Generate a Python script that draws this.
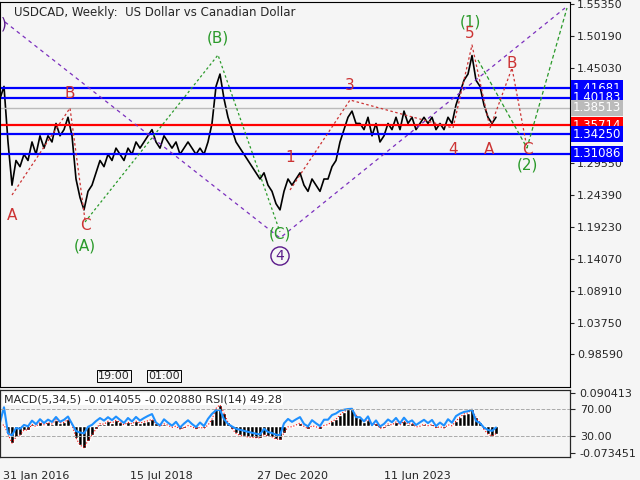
import numpy as np, pandas as pd, seaborn as sns, matplotlib
matplotlib.use("Agg")
import matplotlib.pyplot as plt

sns.set_style("white")
plt.rcParams['font.family'] = ['DejaVu Sans']

# weekly closes sampled every 4 weeks (x in bar index units, ~1 bar per pixel)
prices = [1.40,1.42,1.33,1.26,1.30,1.29,1.31,1.30,1.33,1.31,1.34,1.32,1.34,1.33,1.36,1.34,1.35,1.37,1.34,1.27,
          1.24,1.22,1.25,1.26,1.28,1.30,1.29,1.31,1.30,1.32,1.31,1.30,1.32,1.31,1.33,1.32,1.33,1.34,1.35,1.33,
          1.32,1.34,1.33,1.32,1.33,1.31,1.32,1.33,1.32,1.31,1.32,1.31,1.33,1.36,1.42,1.44,1.40,1.37,1.35,1.33,
          1.32,1.31,1.30,1.29,1.28,1.27,1.28,1.26,1.25,1.23,1.22,1.25,1.27,1.26,1.27,1.28,1.26,1.25,1.27,1.26,
          1.25,1.27,1.27,1.29,1.30,1.33,1.35,1.37,1.38,1.36,1.36,1.35,1.37,1.34,1.36,1.33,1.34,1.36,1.35,1.37,
          1.35,1.38,1.36,1.37,1.35,1.36,1.37,1.36,1.37,1.35,1.36,1.35,1.37,1.36,1.39,1.41,1.43,1.44,1.47,1.43,
          1.42,1.39,1.37,1.36,1.37]
levels = [1.41681, 1.40183, 1.38513, 1.35714, 1.34250, 1.31086]
level_colors = ['#0000ff', '#0000ff', '#bbbbbb', '#ff0000', '#0000ff', '#0000ff']
price_ticks = [1.55350,1.50190,1.45030,1.29550,1.24390,1.19230,1.14070,1.08910,1.03750,0.98590]
date_labels = ["31 Jan 2016", "15 Jul 2018", "27 Dec 2020", "11 Jun 2023"]
date_pos = [3, 130, 257, 384]

x = np.arange(len(prices)) * 4
df = pd.DataFrame({"x": x, "p": prices})
s = pd.Series(prices)
macd = s.ewm(span=2).mean() - s.ewm(span=9).mean()
d = s.diff()
up = d.clip(lower=0).ewm(alpha=1/4).mean(); dn = (-d.clip(upper=0)).ewm(alpha=1/4).mean()
rsi = 100 - 100/(1+up/(dn+1e-9))
rsi = (50 + (rsi - 50) * 0.45).fillna(50)

bg = '#f5f5f5'
fig = plt.figure(figsize=(6.4, 4.8), dpi=100, facecolor=bg)
W, H = 640, 480
def px(p):
    return 1.5535 - (p - 4) * 0.00162
ax = fig.add_axes([0, (H-387)/H, 570/W, 385/H], facecolor=bg)
sns.lineplot(data=df, x="x", y="p", ax=ax, color='black', lw=1.2)
ax.set_xlim(0, 570); ax.set_ylim(px(387), px(2))
for lv, c in zip(levels, level_colors):
    ax.axhline(lv, color=c, lw=1.6 if c != '#bbbbbb' else 1)
    ax.text(573, lv, f"{lv:.5f}", transform=ax.transData, color='white', fontsize=8.5,
            va='center', ha='left', clip_on=False,
            bbox=dict(facecolor=c, edgecolor='none', pad=1.2))
ax.yaxis.tick_right()
ax.set_yticks(price_ticks); ax.set_yticklabels([f"{t:.5f}" for t in price_ticks], fontsize=8)
ax.tick_params(axis='y', direction='out', length=3, pad=2)
ax.set_xticks([]); ax.set_xlabel(""); ax.set_ylabel("")
for sp in ax.spines.values(): sp.set_color('black'); sp.set_linewidth(0.8)

def P(xp, yp): return (xp, px(yp))
def path(pts, color, ls):
    xs, ys = zip(*[P(a, b) for a, b in pts]); ax.plot(xs, ys, color=color, ls=ls, lw=0.9)
path([(5,22),(280,238),(565,8)], '#7b2fbe', (0,(3,3)))
path([(85,222),(218,55),(280,232)], '#2a9a2a', (0,(2,2)))
path([(478,60),(527,148),(567,8)], '#2a9a2a', (0,(3,2)))
path([(12,195),(70,108),(85,220)], '#cc3333', (0,(2,2)))
path([(290,190),(350,100),(453,128),(472,45),(490,128),(512,68),(527,148)], '#cc3333', (0,(2,2)))
labs = [("(1)",470,22,'#2a9a2a'),("5",470,34,'#cc3333'),("B",512,63,'#cc3333'),("3",350,85,'#cc3333'),
        ("B",70,93,'#cc3333'),("1",290,157,'#cc3333'),("4",453,150,'#cc3333'),("A",489,149,'#cc3333'),
        ("C",527,150,'#cc3333'),("(2)",527,165,'#2a9a2a'),("A",12,215,'#cc3333'),("C",85,226,'#cc3333'),
        ("(A)",85,246,'#2a9a2a'),("(B)",218,38,'#2a9a2a'),("(C)",280,234,'#2a9a2a')]
for t, a, b, c in labs:
    ax.text(a, px(b), t, color=c, fontsize=11, ha='center', va='center')
ax.text(280, px(256), "4", color='#5a1a8a', fontsize=10, ha='center', va='center',
        bbox=dict(boxstyle='circle,pad=0.15', fc='none', ec='#5a1a8a'))
ax.text(1, px(24), ")", color='#5a1a8a', fontsize=11, ha='left', va='center')
ax.text(14, px(12), "USDCAD, Weekly:  US Dollar vs Canadian Dollar", fontsize=8.5, va='center')
for t, a in [("19:00", 98), ("01:00", 148)]:
    ax.text(a, px(376), t, fontsize=8, va='center',
            bbox=dict(facecolor=bg, edgecolor='black', pad=1, lw=0.7))

ax2 = fig.add_axes([0, (H-457)/H, 570/W, 67/H], facecolor=bg)
ax2.bar(x, macd.values, width=4, color='black')
ax2.plot(x, macd.values, color='red', ls=':', lw=0.8)
ax2.set_xlim(0, 570); ax2.set_ylim(-0.085, 0.10)
ax2.set_xticks(date_pos); ax2.set_xticklabels(date_labels, fontsize=8, ha='left')
ax2.tick_params(axis='x', length=4, pad=6)
for sp in ax2.spines.values(): sp.set_color('black'); sp.set_linewidth(0.8)
ax3 = ax2.twinx()
ax3.set_ylim(-1, 98)
ax3.plot(x, rsi.values, color='#1e90ff', lw=1.5)
ax3.axhline(70, color='#aaaaaa', ls='--', lw=0.7); ax3.axhline(30, color='#aaaaaa', ls='--', lw=0.7)
ax3.set_yticks([70, 30]); ax3.set_yticklabels(["70.00", "30.00"], fontsize=8)
ax3.set_xlim(0, 570)
ax2.yaxis.tick_right()
ax2.set_yticks([0.090413, -0.073451]); ax2.set_yticklabels(["0.090413", "-0.073451"], fontsize=8)
ax3.text(4, 92, "MACD(5,34,5) -0.014055 -0.020880 RSI(14) 49.28", fontsize=8, va='top',
         bbox=dict(facecolor='white', edgecolor='none', pad=0.5), zorder=5)
fig.savefig("out.png", dpi=100, facecolor=bg)
